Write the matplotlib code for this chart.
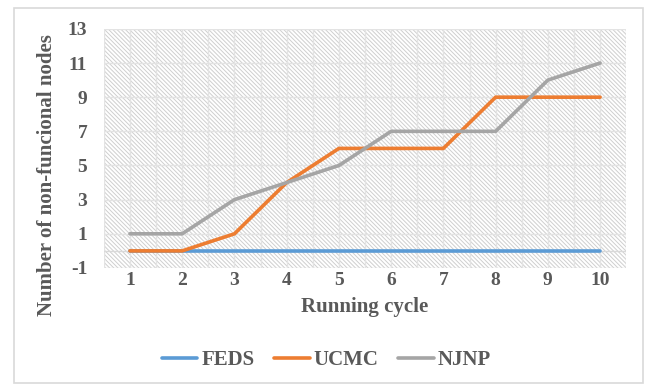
import matplotlib.pyplot as plt
from matplotlib.patches import Rectangle

cycles = [1, 2, 3, 4, 5, 6, 7, 8, 9, 10]
feds = [0, 0, 0, 0, 0, 0, 0, 0, 0, 0]
ucmc = [0, 0, 1, 4, 6, 6, 6, 9, 9, 9]
njnp = [1, 1, 3, 4, 5, 7, 7, 7, 10, 11]
y_ticks = [-1, 1, 3, 5, 7, 9, 11, 13]

plt.rcParams['font.family'] = ['Liberation Serif', 'DejaVu Serif']
plt.rcParams['axes.unicode_minus'] = False
plt.rcParams['hatch.linewidth'] = 0.7
plt.rcParams['hatch.color'] = '#cfcfcf'
txt = '#595959'

fig = plt.figure(figsize=(6.53, 3.85), dpi=100)
ax = fig.add_axes([0.159, 0.304, 0.8, 0.621])

# outer chart border
fig.patches.append(Rectangle((0.021, 0.004), 0.964, 0.975, transform=fig.transFigure,
                             fill=False, edgecolor='#d9d9d9', linewidth=1.2))

# hatched plot area
ax.add_patch(Rectangle((0, 0), 1, 1, transform=ax.transAxes, facecolor='white',
                       edgecolor='#cfcfcf', hatch='\\' * 8, linewidth=0, zorder=0))

ax.set_xlim(0.5, 10.5)
ax.set_ylim(-1, 13)
for v in [x / 2 for x in range(1, 22)]:
    ax.axvline(v, color='#e3e3e3', linewidth=1.0, zorder=1)
for v in y_ticks:
    ax.axhline(v, color='#e3e3e3', linewidth=1.0, zorder=1)
ax.axhline(0, color='#d9d9d9', linewidth=1.0, zorder=1)

ax.plot(cycles, feds, color='#5b9bd5', linewidth=2.6, label='FEDS', zorder=3, solid_capstyle='round')
ax.plot(cycles, ucmc, color='#ed7d31', linewidth=2.6, label='UCMC', zorder=3, solid_capstyle='round')
ax.plot(cycles, njnp, color='#a5a5a5', linewidth=2.6, label='NJNP', zorder=3, solid_capstyle='round')

ax.set_xticks(cycles)
ax.set_yticks(y_ticks)
ax.tick_params(length=0, labelsize=14, labelcolor=txt)
ax.tick_params(axis='x', pad=3)
ax.tick_params(axis='y', pad=12)
for lab in ax.get_xticklabels() + ax.get_yticklabels():
    lab.set_fontweight('bold')
for s in ax.spines.values():
    s.set_visible(False)

ax.set_xlabel('Running cycle', fontsize=15, fontweight='bold', color=txt)
ax.set_ylabel('Number of non-funcional nodes', fontsize=15, fontweight='bold', color=txt)
ax.xaxis.set_label_coords(0.5, -0.163)
ax.xaxis.label.set_va('center')
ax.yaxis.set_label_coords(-0.109, 0.39)
ax.yaxis.label.set_va('center')

fig.legend(loc='center', bbox_to_anchor=(0.5, 0.065), ncol=3, frameon=False,
           prop={'size': 15, 'weight': 'bold'}, labelcolor=txt, handlelength=1.7,
           handletextpad=0.2, columnspacing=0.95)

fig.savefig('out.png', dpi=100)
